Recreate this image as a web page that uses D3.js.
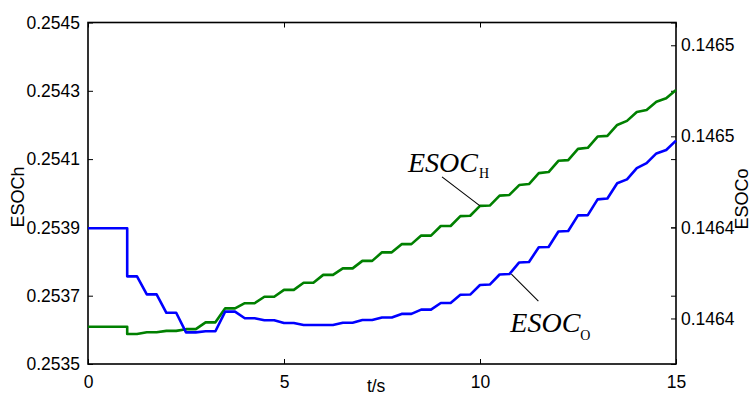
<!DOCTYPE html>
<html><head><meta charset="utf-8">
<script src="https://cdn.jsdelivr.net/npm/d3@7"></script>
<style>
html,body{margin:0;padding:0;background:#fff;overflow:hidden;}
svg{display:block;}
</style></head>
<body>
<script>
// ---------- data ----------
const timeS = [0,0.25,0.5,0.75,1,1,1.25,1.5,1.75,2,2.25,2.5,2.75,3,3.25,3.5,3.75,4,4.25,4.5,4.75,
  5,5.25,5.5,5.75,6,6.25,6.5,6.75,7,7.25,7.5,7.75,8,8.25,8.5,8.75,9,9.25,9.5,9.75,
  10,10.25,10.5,10.75,11,11.25,11.5,11.75,12,12.25,12.5,12.75,13,13.25,13.5,13.75,14,14.25,14.5,14.75,15];
// ESOC_H (left axis)
const esocH = [0.253609,0.253609,0.253609,0.253609,0.253609,0.253588,0.253588,0.253593,0.253593,0.253597,0.253597,
  0.253602,0.253602,0.253622,0.253622,0.253663,0.253663,0.253678,0.253678,0.253697,0.253697,
  0.253717,0.253717,0.253738,0.253738,0.253761,0.253761,0.253780,0.253780,0.253802,0.253802,
  0.253827,0.253827,0.253851,0.253851,0.253876,0.253876,0.253904,0.253904,0.253933,0.253934,
  0.253963,0.253964,0.253993,0.253995,0.254024,0.254027,0.254059,0.254062,0.254095,0.254097,
  0.254130,0.254133,0.254166,0.254168,0.254200,0.254212,0.254238,0.254244,0.254268,0.254278,0.254302];
// ESOC_O (right axis)
const esocO = [0.1464396,0.1464396,0.1464396,0.1464396,0.1464396,0.1464185,0.1464185,0.1464106,0.1464106,0.1464025,0.1464025,
  0.1463939,0.1463939,0.1463944,0.1463944,0.1464030,0.1464030,0.1464001,0.1464001,0.1463992,0.1463992,
  0.1463980,0.1463980,0.1463971,0.1463971,0.1463971,0.1463971,0.1463981,0.1463981,0.1463993,0.1463993,
  0.1464004,0.1464004,0.1464020,0.1464020,0.1464039,0.1464039,0.1464068,0.1464068,0.1464104,0.1464105,
  0.1464147,0.1464149,0.1464193,0.1464195,0.1464246,0.1464248,0.1464313,0.1464314,0.1464382,0.1464384,
  0.1464453,0.1464454,0.1464523,0.1464527,0.1464594,0.1464611,0.1464660,0.1464682,0.1464725,0.1464740,0.1464781];

const xTicks = [0, 5, 10, 15];
const xTickLabels = ["0", "5", "10", "15"];
const yLeftTicks = [0.2535, 0.2537, 0.2539, 0.2541, 0.2543, 0.2545];
const yLeftTickLabels = ["0.2535", "0.2537", "0.2539", "0.2541", "0.2543", "0.2545"];
const yRightTicks = [0.14640, 0.14644, 0.14648, 0.14652];
const yRightTickLabels = ["0.1464", "0.1464", "0.1465", "0.1465"];
const xDomain = [0, 15];
const yLeftDomain = [0.2535, 0.2545];
const yRightDomain = [0.14638, 0.14653];
const xLabel = "t/s", yLeftLabel = "ESOCh", yRightLabel = "ESOCo";
const annH = {t: 10, main: "ESOC", sub: "H"};
const annO = {t: 10.8, v: 0.1464195, main: "ESOC", sub: "O"};

// ---------- drawing ----------
const W = 753, H = 396;
const L = 88, R = 676, T = 22.5, B = 364;
const svg = d3.select("body").append("svg").attr("width", W).attr("height", H);
svg.append("rect").attr("width", W).attr("height", H).attr("fill", "#fff");

const x = d3.scaleLinear().domain(xDomain).range([L, R]);
const yL = d3.scaleLinear().domain(yLeftDomain).range([B, T]);
const yR = d3.scaleLinear().domain(yRightDomain).range([B, T]);

const tickFont = "'Liberation Sans', Arial, sans-serif";
const fs = "17.5px";

function styleAxis(g, showText) {
  g.select(".domain").remove();
  g.selectAll(".tick line").attr("stroke", "#000").attr("stroke-width", 1);
  g.selectAll(".tick text").attr("fill", "#000").style("font-family", tickFont).style("font-size", fs);
  if (!showText) g.selectAll(".tick text").remove();
}

// bottom
svg.append("g").attr("transform", `translate(0,${B})`)
  .call(d3.axisBottom(x).tickValues(xTicks).tickFormat((d, i) => xTickLabels[i]).tickSize(-5).tickPadding(12))
  .call(g => styleAxis(g, true));
// top mirror
svg.append("g").attr("transform", `translate(0,${T})`)
  .call(d3.axisTop(x).tickValues(xTicks).tickSize(-5))
  .call(g => styleAxis(g, false));
// left
svg.append("g").attr("transform", `translate(${L},0)`)
  .call(d3.axisLeft(yL).tickValues(yLeftTicks).tickFormat((d, i) => yLeftTickLabels[i]).tickSize(-5).tickPadding(8))
  .call(g => styleAxis(g, true));
// left ticks mirrored on right
svg.append("g").attr("transform", `translate(${R},0)`)
  .call(d3.axisRight(yL).tickValues(yLeftTicks).tickSize(-5))
  .call(g => styleAxis(g, false));
// right axis
svg.append("g").attr("transform", `translate(${R},0)`)
  .call(d3.axisRight(yR).tickValues(yRightTicks).tickFormat((d, i) => yRightTickLabels[i]).tickSize(-5).tickPadding(5))
  .call(g => styleAxis(g, true));

// frame
svg.append("rect").attr("x", L).attr("y", T).attr("width", R - L).attr("height", B - T)
  .attr("fill", "none").attr("stroke", "#000").attr("stroke-width", 1.6);

// lines
const lineH = d3.line().x((d, i) => x(timeS[i])).y(d => yL(d));
const lineO = d3.line().x((d, i) => x(timeS[i])).y(d => yR(d));
svg.append("path").datum(esocH).attr("d", lineH).attr("fill", "none")
  .attr("stroke", "#008000").attr("stroke-width", 2.6).attr("stroke-linejoin", "round");
svg.append("path").datum(esocO).attr("d", lineO).attr("fill", "none")
  .attr("stroke", "#0000ff").attr("stroke-width", 2.6).attr("stroke-linejoin", "round");

// axis labels
svg.append("text").attr("x", x(7.35)).attr("y", 392).attr("text-anchor", "middle")
  .style("font-family", tickFont).style("font-size", fs).text(xLabel);
svg.append("text").attr("transform", "translate(24,197) rotate(-90)").attr("text-anchor", "middle")
  .style("font-family", tickFont).style("font-size", "18px").text(yLeftLabel);
svg.append("text").attr("transform", "translate(748,199) rotate(-90)").attr("text-anchor", "middle")
  .style("font-family", tickFont).style("font-size", "18px").text(yRightLabel);

// annotations
const serif = "'Liberation Serif', 'Times New Roman', serif";
function annotate(ax, ay, lx, ly, tx, ty, sx, sy, a) {
  svg.append("line").attr("x1", ax).attr("y1", ay).attr("x2", lx).attr("y2", ly)
    .attr("stroke", "#000").attr("stroke-width", 1.1);
  svg.append("text").attr("x", tx).attr("y", ty).style("font-family", serif)
    .style("font-style", "italic").style("font-size", "28px").text(a.main);
  svg.append("text").attr("x", sx).attr("y", sy).style("font-family", serif)
    .style("font-size", "14px").text(a.sub);
}
const iH = timeS.indexOf(annH.t);
const hx = x(annH.t), hy = yL(esocH[iH]);
annotate(hx, hy, hx - 38, hy - 29, hx - 72, hy - 34, hx - 1, hy - 28, annH);
const ox = x(annO.t), oy = yR(annO.v);
annotate(ox, oy, ox + 27, oy + 27, ox - 1, oy + 58, ox + 69, oy + 66, annO);
</script>
</body></html>
